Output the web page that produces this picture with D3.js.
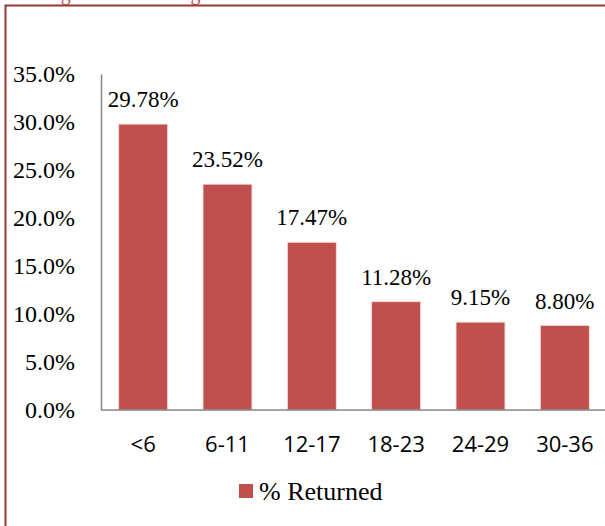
<!DOCTYPE html>
<html>
<head>
<meta charset="utf-8">
<script src="https://cdn.jsdelivr.net/npm/d3@7"></script>
<style>
  body { margin: 0; background: #fff; }
</style>
</head>
<body>
<div id="chart"></div>
<script>
// data
var groups = ["<6", "6-11", "12-17", "18-23", "24-29", "30-36"];
var returned = [29.78, 23.52, 17.47, 11.28, 9.15, 8.80];
var yTicks = [0, 5, 10, 15, 20, 25, 30, 35];
var seriesName = "% Returned";
var title = "Figure 4: Percentage of Items Returned in Six-Month Intervals";

var W = 605, H = 526;
var serif = "'Liberation Serif', 'Times New Roman', serif";
var sans = "'Open Sans', 'Noto Sans', sans-serif";

var svg = d3.select("#chart")
  .append("svg")
    .attr("width", W)
    .attr("height", H);

// caption above the frame, cropped off in the original picture
svg.append("text")
  .attr("x", 44)
  .attr("y", 0)
  .style("font-family", serif)
  .style("font-size", "20px")
  .style("fill", "#c0504d")
  .text(title);

// outer frame (runs off the right and bottom edges)
svg.append("path")
  .attr("d", "M5.5," + (H + 5) + "V5.5H" + (W + 5))
  .style("fill", "none")
  .style("stroke", "#953735")
  .style("stroke-width", 2);

// scales
var x = d3.scaleBand()
  .domain(groups)
  .range([101, 607])
  .paddingInner(0.42)
  .paddingOuter(0.21);

var y = d3.scaleLinear()
  .domain([0, 35])
  .range([410, 74]);

// y axis
var yAxis = svg.append("g")
  .attr("transform", "translate(101,0)")
  .call(d3.axisLeft(y).tickValues(yTicks).tickSize(0).tickSizeOuter(0).tickPadding(26)
    .tickFormat(function(d) { return d.toFixed(1) + "%"; }));
yAxis.select(".domain").style("stroke", "#868686").style("stroke-width", 1.5);
yAxis.selectAll("text")
  .style("font-family", serif)
  .style("font-size", "24px")
  .style("fill", "#000");

// bars
svg.selectAll(".bar")
  .data(returned)
  .enter()
  .append("rect")
    .attr("class", "bar")
    .attr("x", function(d, i) { return x(groups[i]); })
    .attr("y", function(d) { return y(d); })
    .attr("width", x.bandwidth())
    .attr("height", function(d) { return y(0) - y(d); })
    .style("fill", "#c0504d")
    .style("stroke", "#f2dcdb")
    .style("stroke-width", 0.8);

// value labels
svg.selectAll(".val")
  .data(returned)
  .enter()
  .append("text")
    .attr("class", "val")
    .attr("x", function(d, i) { return x(groups[i]) + x.bandwidth() / 2; })
    .attr("y", function(d) { return y(d) - 17; })
    .attr("text-anchor", "middle")
    .style("font-family", serif)
    .style("font-size", "23px")
    .style("fill", "#000")
    .text(function(d) { return d.toFixed(2) + "%"; });

// x axis
var xAxis = svg.append("g")
  .attr("transform", "translate(0,410)")
  .call(d3.axisBottom(x).tickSize(0).tickSizeOuter(0).tickPadding(26));
xAxis.select(".domain").remove();
xAxis.selectAll("text")
  .style("font-family", sans)
  .style("font-size", "22px")
  .style("fill", "#000");

svg.append("line")
  .attr("x1", 101).attr("x2", W)
  .attr("y1", y(0)).attr("y2", y(0))
  .style("stroke", "#868686")
  .style("stroke-width", 1.5);

// legend
svg.append("rect")
  .attr("x", 239)
  .attr("y", 484)
  .attr("width", 14)
  .attr("height", 14)
  .style("fill", "#c0504d");

svg.append("text")
  .attr("x", 259)
  .attr("y", 500)
  .style("font-family", serif)
  .style("font-size", "26px")
  .style("fill", "#000")
  .text(seriesName);
</script>
</body>
</html>
